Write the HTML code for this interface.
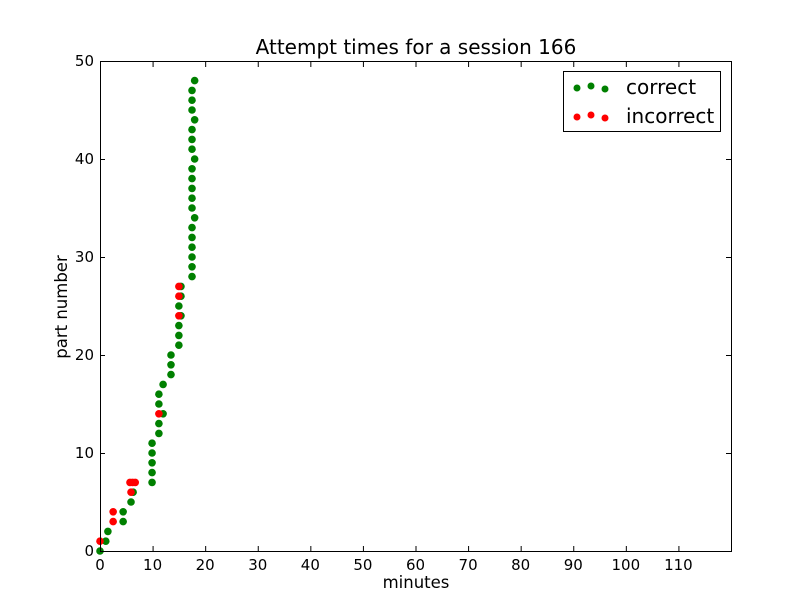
<!DOCTYPE html>
<html><head><meta charset="utf-8"><style>
body{margin:0;background:#fff;font-family:"DejaVu Sans",sans-serif}
svg{display:block;font-family:"DejaVu Sans",sans-serif}
</style></head><body>
<svg id="c" width="812" height="612" xmlns="http://www.w3.org/2000/svg">
<rect width="812" height="612" fill="#fff"/>
<text x="416" y="54" font-size="20" text-anchor="middle">Attempt times for a session 166</text>
<g id="ticks"></g>
<g id="pts"></g>
<rect x="100.5" y="61.5" width="631" height="490" fill="none" stroke="#000" stroke-width="1"/>
<text x="416" y="588" font-size="16.5" text-anchor="middle">minutes</text>
<text transform="translate(67,307) rotate(-90)" font-size="16.5" text-anchor="middle">part number</text>
<g>
<rect x="563.5" y="71.5" width="157" height="60" fill="#fff" stroke="#000"/>
<g>
<circle cx="577" cy="88" r="3.5" fill="green"/><circle cx="591" cy="86" r="3.5" fill="green"/><circle cx="605" cy="89" r="3.5" fill="green"/>
<text x="626" y="94" font-size="20">correct</text></g>
<g>
<circle cx="577" cy="117" r="3.5" fill="red"/><circle cx="591" cy="115" r="3.5" fill="red"/><circle cx="605" cy="118" r="3.5" fill="red"/>
<text x="626" y="123" font-size="20">incorrect</text></g>
</g>
</svg>
<script>
const correctY=[0,1,2,3,4,5,6,7,8,9,10,11,12,13,14,15,16,17,18,19,20,21,22,23,24,25,26,27,28,29,30,31,32,33,34,35,36,37,38,39,40,41,42,43,44,45,46,47,48];
const correctX=[0,1.1,1.5,4.4,4.4,5.9,6.3,9.9,9.9,9.9,9.9,9.9,11.2,11.2,12,11.2,11.2,12,13.5,13.5,13.5,15,15,15,15.4,15,15.4,15.4,17.5,17.5,17.5,17.5,17.5,17.5,18,17.5,17.5,17.5,17.5,17.5,18,17.5,17.5,17.5,18,17.5,17.5,17.5,18];
const incorrectY=[1,3,4,6,7,7,7,14,24,26,27];
const incorrectX=[0,2.5,2.5,5.9,5.7,6.2,6.7,11.2,15,15,15];
const xTicks=[0,10,20,30,40,50,60,70,80,90,100,110];
const yTicks=[0,10,20,30,40,50];
const NS="http://www.w3.org/2000/svg";
const sx=v=>100+v*631/120, sy=v=>551-v*490/50;
const tg=document.getElementById('ticks'), pg=document.getElementById('pts');
function mk(t,a,p){const e=document.createElementNS(NS,t);for(const k in a)e.setAttribute(k,a[k]);p.appendChild(e);return e;}
xTicks.forEach(v=>{const x=sx(v)+0.5;
mk('line',{x1:x,x2:x,y1:551,y2:546,stroke:'#000'},tg);mk('line',{x1:x,x2:x,y1:62,y2:67,stroke:'#000'},tg);
const t=mk('text',{x:sx(v),y:570,'font-size':15,'text-anchor':'middle'},tg);t.textContent=v;

});
yTicks.forEach(v=>{const y=sy(v)+0.5;
mk('line',{x1:100,x2:105,y1:y,y2:y,stroke:'#000'},tg);mk('line',{x1:731,x2:726,y1:y,y2:y,stroke:'#000'},tg);
const t=mk('text',{x:94,y:sy(v)+5,'font-size':15,'text-anchor':'end'},tg);t.textContent=v;

});
correctY.forEach((y,i)=>{const c=mk('circle',{cx:sx(correctX[i]),cy:sy(y),r:3.8,fill:'green'},pg);

});
incorrectY.forEach((y,i)=>{const c=mk('circle',{cx:sx(incorrectX[i]),cy:sy(y),r:3.8,fill:'red'},pg);

});
</script>
</body></html>
